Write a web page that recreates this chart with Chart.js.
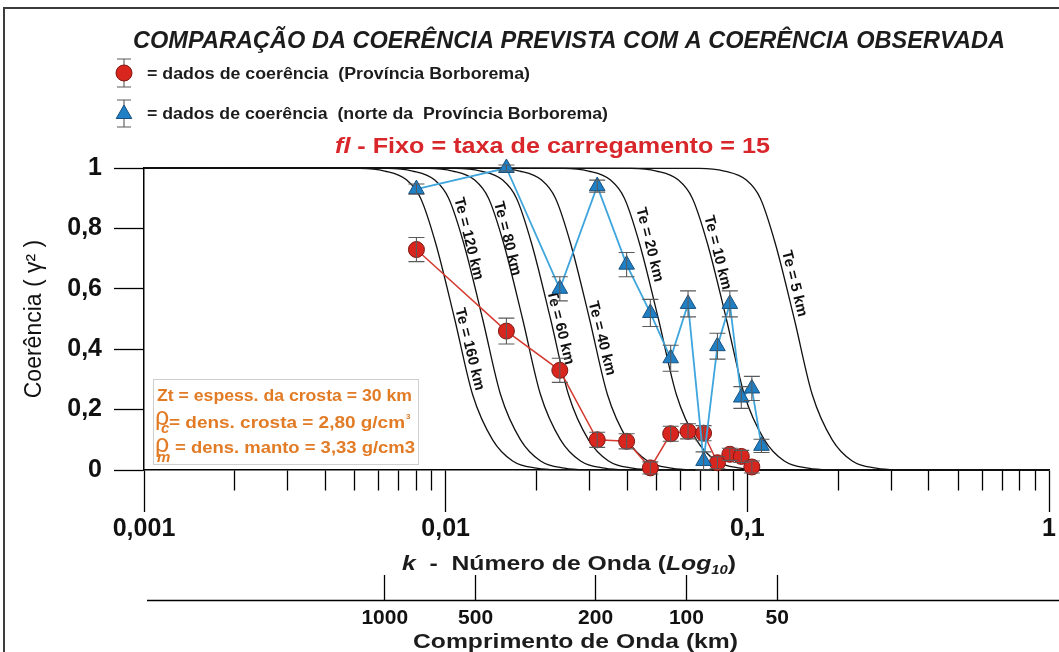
<!DOCTYPE html>
<html>
<head>
<meta charset="utf-8">
<script src="https://cdn.jsdelivr.net/npm/chart.js@4.4.1/dist/chart.umd.min.js"></script>
<style>
  html, body { margin: 0; padding: 0; background: #fff; }
  canvas { display: block; }
</style>
</head>
<body>
<canvas id="chart" width="1059" height="652"></canvas>
<script>
const FONT = "'Liberation Sans', Arial, sans-serif";

// observed coherence, wavenumber k in 1/km
const kObs = [0.0080, 0.0159, 0.0239, 0.0318, 0.0398, 0.0477, 0.0557, 0.0636, 0.0716, 0.0796, 0.0875, 0.0955, 0.1035, 0.1114];
const cohBorborema = [0.73, 0.46, 0.33, 0.10, 0.095, 0.007, 0.12, 0.128, 0.122, 0.024, 0.052, 0.045, 0.01];
const errBorborema = [0.04, 0.043, 0.04, 0.025, 0.025, 0.02, 0.025, 0.025, 0.025, 0.02, 0.02, 0.02, 0.02];
const cohNorte = [0.93, 1.0, 0.60, 0.94, 0.68, 0.52, 0.37, 0.55, 0.03, 0.41, 0.55, 0.24, 0.27, 0.08];
const errNorte = [0.017, 0.01, 0.04, 0.02, 0.04, 0.045, 0.043, 0.043, 0.03, 0.043, 0.043, 0.036, 0.04, 0.022];

// predicted coherence curves: k at each coherence level, one list per Te
const curveCoh = [1, 0.999, 0.99, 0.96, 0.9, 0.75, 0.5, 0.25, 0.1, 0.03, 0.006, 0.001, 0];
const kTe160 = [0.001, 0.00519, 0.00628, 0.00743, 0.00826, 0.00927, 0.01071, 0.01228, 0.01431, 0.01667, 0.02001, 0.02331, 1];
const kTe120 = [0.001, 0.00642, 0.00777, 0.00920, 0.01023, 0.01148, 0.01326, 0.01520, 0.01771, 0.02064, 0.02477, 0.02886, 1];
const kTe80 = [0.001, 0.00872, 0.01055, 0.01248, 0.01387, 0.01557, 0.01799, 0.02062, 0.02403, 0.02800, 0.03361, 0.03915, 1];
const kTe60 = [0.001, 0.01079, 0.01306, 0.01545, 0.01717, 0.01927, 0.02227, 0.02553, 0.02975, 0.03466, 0.04161, 0.04847, 1];
const kTe40 = [0.001, 0.01453, 0.01758, 0.02080, 0.02312, 0.02595, 0.02998, 0.03437, 0.04005, 0.04666, 0.05601, 0.06525, 1];
const kTe20 = [0.001, 0.02459, 0.02975, 0.03520, 0.03913, 0.04391, 0.05073, 0.05817, 0.06779, 0.07897, 0.09479, 0.1104, 1];
const kTe10 = [0.001, 0.04129, 0.04996, 0.05911, 0.06572, 0.07375, 0.08521, 0.09770, 0.1139, 0.1326, 0.1592, 0.1855, 1];
const kTe5 = [0.001, 0.06934, 0.08390, 0.09927, 0.1104, 0.1238, 0.1431, 0.1641, 0.1912, 0.2227, 0.2673, 0.3114, 1];

const teNames = ['160', '120', '80', '60', '40', '20', '10', '5'];
const teCurves = [kTe160, kTe120, kTe80, kTe60, kTe40, kTe20, kTe10, kTe5];
// where each "Te = .. km" label sits (k, coherence)
const teLabelK = [0.0120, 0.0119, 0.0160, 0.0240, 0.0329, 0.0474, 0.0796, 0.1431];
const teLabelCoh = [0.40, 0.766, 0.766, 0.472, 0.436, 0.746, 0.72, 0.617];

// axis ticks
const kDecades = [0.001, 0.01, 0.1, 1];
const kDecadeText = ['0,001', '0,01', '0,1', '1'];
const yTicks = [0, 0.1, 0.2, 0.3, 0.4, 0.5, 0.6, 0.7, 0.8, 0.9, 1];
const yTickText = ['0', '', '0,2', '', '0,4', '', '0,6', '', '0,8', '', '1'];
const lambdaTicks = [1000, 500, 200, 100, 50];

const kTicks = [];
const kTickText = [];
kDecades.forEach((d, i) => {
    kTicks.push(d);
    kTickText.push(kDecadeText[i]);
    if (i < kDecades.length - 1) {
        for (let m = 2; m <= 9; m++) {
            kTicks.push(d * m);
            kTickText.push('');
        }
    }
});

const RED = '#d8261f', RED_EDGE = '#7d1712', RED_LINE = '#d43a30';
const BLUE = '#1f80c6', BLUE_EDGE = '#17507e', BLUE_LINE = '#3ea5dd';
const ORANGE = '#e27b25';

function pts(xs, ys) {
    return ys.map((y, i) => ({x: xs[i], y: y}));
}

let datasets = [];
datasets.push({
    label: 'norte', data: pts(kObs, cohNorte), errors: errNorte, order: 0,
    borderColor: BLUE_LINE, borderWidth: 1.8, tension: 0, clip: false,
    pointStyle: 'triangle', pointRadius: 9, pointBackgroundColor: BLUE,
    pointBorderColor: BLUE_EDGE, pointBorderWidth: 1
});
datasets.push({
    label: 'borborema', data: pts(kObs, cohBorborema), errors: errBorborema, order: 1,
    borderColor: RED_LINE, borderWidth: 1.5, tension: 0, clip: false,
    pointStyle: 'circle', pointRadius: 8, pointBackgroundColor: RED,
    pointBorderColor: RED_EDGE, pointBorderWidth: 1
});
teCurves.forEach((ks, i) => {
    datasets.push({
        label: 'Te ' + teNames[i], data: pts(ks, curveCoh), te: i, order: 2,
        borderColor: '#111', borderWidth: 1.3, pointRadius: 0,
        cubicInterpolationMode: 'monotone', clip: false
    });
});

// runs of text with own fonts, squeezed to a given width
function textRuns(ctx, parts, left, base, width) {
    let total = 0;
    for (const p of parts) {
        ctx.font = p[1];
        total += ctx.measureText(p[0]).width;
    }
    ctx.save();
    ctx.translate(left, base);
    ctx.scale(width ? width / total : 1, 1);
    let x = 0;
    for (const p of parts) {
        ctx.font = p[1];
        ctx.fillText(p[0], x, p[2] || 0);
        x += ctx.measureText(p[0]).width;
    }
    ctx.restore();
}

function errorBar(ctx, x, yTop, yBot, cap) {
    ctx.beginPath();
    ctx.moveTo(x, yTop);
    ctx.lineTo(x, yBot);
    ctx.moveTo(x - cap, yTop);
    ctx.lineTo(x + cap, yTop);
    ctx.moveTo(x - cap, yBot);
    ctx.lineTo(x + cap, yBot);
    ctx.stroke();
}

const decor = {
    id: 'decor',
    afterDatasetDraw(chart, args) {
        const ctx = chart.ctx;
        const ds = chart.data.datasets[args.index];
        const xs = chart.scales.x, ys = chart.scales.y;
        if (ds.errors) {
            ctx.save();
            ctx.strokeStyle = '#5a5a5a';
            ctx.lineWidth = 1.1;
            args.meta.data.forEach((p, i) => {
                const v = ds.data[i].y, e = ds.errors[i];
                errorBar(ctx, p.x, ys.getPixelForValue(v + e), ys.getPixelForValue(v - e), 8);
            });
            ctx.restore();
        }
        if (ds.te !== undefined) {
            const i = ds.te;
            ctx.save();
            ctx.translate(xs.getPixelForValue(teLabelK[i]), ys.getPixelForValue(teLabelCoh[i]));
            ctx.rotate(76 * Math.PI / 180);
            ctx.font = 'bold 15px ' + FONT;
            ctx.fillStyle = '#111';
            ctx.textAlign = 'center';
            ctx.textBaseline = 'middle';
            ctx.fillText('Te = ' + teNames[i] + ' km', 0, 0);
            ctx.restore();
        }
    },
    afterDraw(chart) {
        const ctx = chart.ctx;
        const lam = chart.scales.lambda;
        ctx.save();
        ctx.textAlign = 'left';
        ctx.textBaseline = 'alphabetic';

        // frame
        ctx.strokeStyle = '#3c3c3c';
        ctx.lineWidth = 2;
        ctx.beginPath();
        ctx.moveTo(4, 652);
        ctx.lineTo(4, 8);
        ctx.lineTo(1059, 8);
        ctx.stroke();

        // wavelength axis line, from the scale's left end on to the page edge
        const yLine = Math.round(lam.top) + 0.5;
        ctx.strokeStyle = '#000';
        ctx.lineWidth = 1.5;
        ctx.beginPath();
        ctx.moveTo(lam.left + 3, yLine);
        ctx.lineTo(1059, yLine);
        ctx.stroke();

        ctx.fillStyle = '#1c1c1c';
        textRuns(ctx, [['COMPARAÇÃO DA COERÊNCIA PREVISTA COM A COERÊNCIA OBSERVADA', 'italic bold 23px ' + FONT]], 133, 48, 872);

        // legend
        ctx.strokeStyle = '#5a5a5a';
        ctx.lineWidth = 1.1;
        errorBar(ctx, 124, 59, 87, 7);
        errorBar(ctx, 124, 100, 127, 7);
        ctx.fillStyle = RED;
        ctx.strokeStyle = RED_EDGE;
        ctx.lineWidth = 1;
        Chart.helpers.drawPoint(ctx, {pointStyle: 'circle', radius: 8, borderWidth: 1}, 124, 73);
        ctx.fillStyle = BLUE;
        ctx.strokeStyle = BLUE_EDGE;
        Chart.helpers.drawPoint(ctx, {pointStyle: 'triangle', radius: 9, borderWidth: 1}, 124, 114);
        ctx.fillStyle = '#1c1c1c';
        textRuns(ctx, [['= dados de coerência  (Província Borborema)', 'bold 16px ' + FONT]], 147, 79, 383);
        textRuns(ctx, [['= dados de coerência  (norte da  Província Borborema)', 'bold 16px ' + FONT]], 147, 119, 461);

        ctx.fillStyle = '#d8262b';
        textRuns(ctx, [['fl', 'italic bold 22px ' + FONT], [' - Fixo = taxa de carregamento = 15', 'bold 22px ' + FONT]], 335, 153, 435);

        // model parameters box
        ctx.fillStyle = '#fff';
        ctx.fillRect(153, 379, 265, 85);
        ctx.strokeStyle = '#cfcfcf';
        ctx.lineWidth = 1;
        ctx.strokeRect(153.5, 379.5, 265, 85);
        ctx.fillStyle = ORANGE;
        textRuns(ctx, [['Zt = espess. da crosta = 30 km', 'bold 16px ' + FONT]], 157, 401, 255);
        ctx.font = '25px ' + FONT;
        ctx.fillText('ρ', 155, 425);
        ctx.fillText('ρ', 155, 452);
        ctx.font = 'italic bold 15px ' + FONT;
        ctx.fillText('c', 161, 433);
        ctx.fillText('m', 157, 462);
        textRuns(ctx, [['= dens. crosta = 2,80 g/cm', 'bold 16px ' + FONT]], 169, 428, 236);
        ctx.font = 'bold 8px ' + FONT;
        ctx.fillText('3', 406, 419);
        textRuns(ctx, [['= dens. manto = 3,33 g/cm3', 'bold 16px ' + FONT]], 175, 453, 240);

        // axis titles below the wavenumber axis
        ctx.fillStyle = '#1c1c1c';
        textRuns(ctx, [
            ['k', 'italic bold 20px ' + FONT],
            ['  -  Número de Onda (', 'bold 20px ' + FONT],
            ['Log', 'italic bold 20px ' + FONT],
            ['10', 'italic bold 12px ' + FONT, 4],
            [')', 'bold 20px ' + FONT]
        ], 402, 570, 334);
        textRuns(ctx, [['Comprimento de Onda (km)', 'bold 20px ' + FONT]], 413, 648, 325);
        ctx.restore();
    }
};

new Chart(document.getElementById('chart'), {
    type: 'line',
    data: {datasets: datasets},
    options: {
        responsive: false,
        animation: false,
        events: [],
        layout: {padding: {top: 168, right: 9, left: 0, bottom: 0}},
        plugins: {legend: {display: false}, tooltip: {enabled: false}},
        scales: {
            x: {
                type: 'logarithmic', min: 0.001, max: 1, position: 'bottom',
                afterBuildTicks: (s) => { s.ticks = kTicks.map(v => ({value: v})); },
                afterFit: (s) => { s.height = 130; },
                border: {display: true, color: '#000', width: 1.5},
                grid: {
                    drawOnChartArea: false, tickLength: 42, tickColor: '#000', tickWidth: 1.3,
                    tickBorderDash: (c) => kTickText[c.index] ? [] : [20, 100]
                },
                ticks: {
                    autoSkip: false, maxRotation: 0, padding: 2, color: '#111',
                    font: {family: FONT, size: 25, weight: 'bold'},
                    callback: (v, i) => kTickText[i]
                }
            },
            lambda: {
                type: 'logarithmic', min: 0.001, max: 1, position: 'bottom', weight: 1,
                afterBuildTicks: (s) => { s.ticks = lambdaTicks.map(l => ({value: 2 * Math.PI / l})); },
                afterFit: (s) => { s.height = 52; },
                border: {display: false},
                grid: {drawOnChartArea: false, tickLength: -25, tickColor: '#000', tickWidth: 1.3},
                ticks: {
                    autoSkip: false, maxRotation: 0, padding: 31, color: '#111',
                    font: {family: FONT, size: 21, weight: 'bold'},
                    callback: (v, i) => String(lambdaTicks[i])
                }
            },
            y: {
                type: 'linear', min: 0, max: 1, position: 'left',
                afterBuildTicks: (s) => { s.ticks = yTicks.map(v => ({value: v})); },
                afterFit: (s) => { s.width = 144; },
                border: {display: true, color: '#000', width: 1.5},
                grid: {
                    drawOnChartArea: false, tickLength: 30, tickColor: '#000', tickWidth: 1.3,
                    tickBorderDash: (c) => yTickText[c.index] ? [] : [15, 15],
                    tickBorderDashOffset: (c) => yTickText[c.index] ? 0 : 15
                },
                ticks: {
                    padding: 12, color: '#111',
                    font: {family: FONT, size: 25, weight: 'bold'},
                    callback: (v, i) => yTickText[i]
                },
                title: {
                    display: true, text: 'Coerência ( γ² )', color: '#111',
                    font: {family: FONT, size: 23}, padding: {top: 21, bottom: 0}
                }
            }
        }
    },
    plugins: [decor]
});
</script>
</body>
</html>
